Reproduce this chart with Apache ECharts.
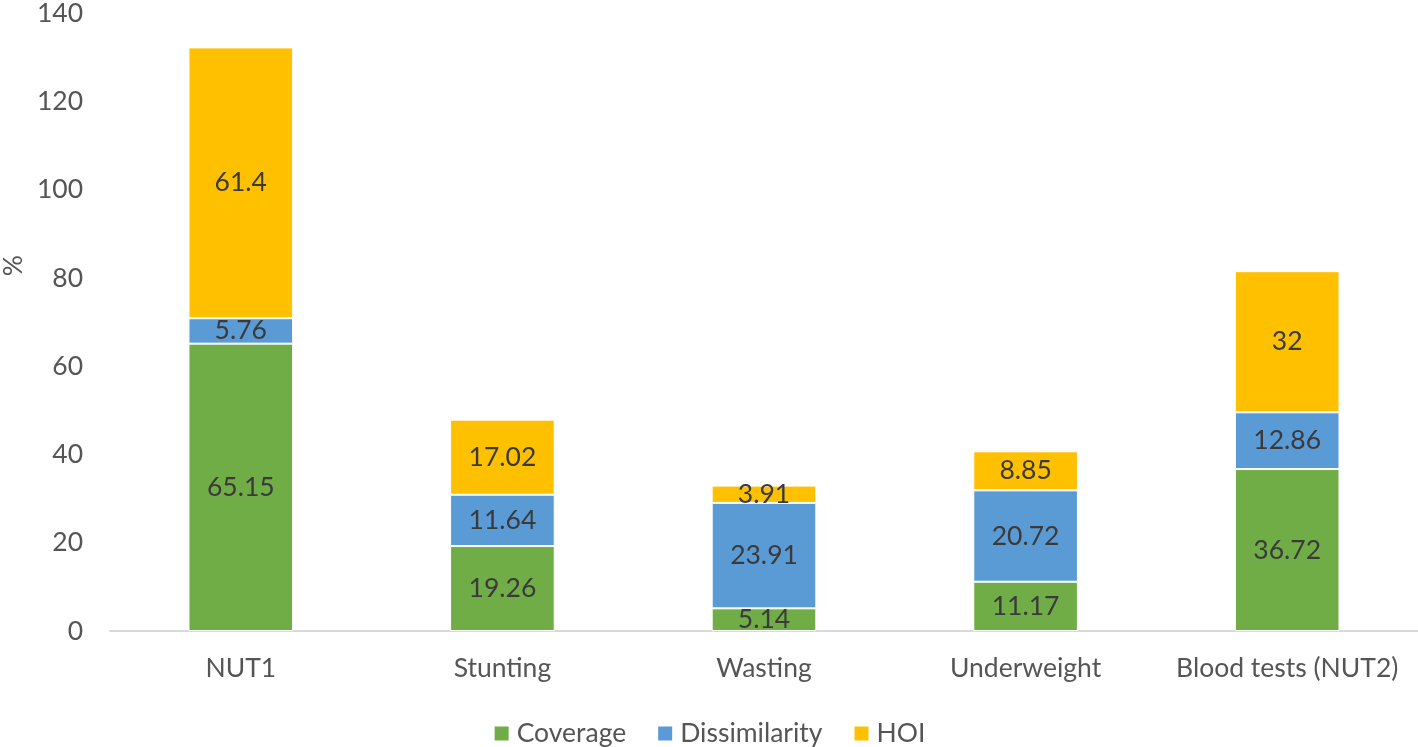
<!DOCTYPE html>
<html><head><meta charset="utf-8">
<script src="https://cdn.jsdelivr.net/npm/echarts@6/dist/echarts.min.js"></script>
<style>html,body{margin:0;padding:0;background:#fff}#c{width:1418px;height:747px}</style>
</head><body><div id="c"></div>
<script>
const categories = ['NUT1', 'Stunting', 'Wasting', 'Underweight', 'Blood tests (NUT2)'];
const coverage = [65.15, 19.26, 5.14, 11.17, 36.72];
const dissimilarity = [5.76, 11.64, 23.91, 20.72, 12.86];
const hoi = [61.4, 17.02, 3.91, 8.85, 32];
const yTicks = {min: 0, max: 140, interval: 20};

const font = 'Lato, Open Sans, sans-serif';
const FS = 26.5;
const lbl = {show: true, position: 'inside', color: '#3a3a3a', fontSize: FS, fontFamily: font};
function s(name, data, color) {
  return {name, type: 'bar', stack: 'a', data, barWidth: '40%',
    itemStyle: {color, borderColor: '#fff', borderWidth: 1}, label: lbl};
}
const chart = echarts.init(document.getElementById('c'));
chart.setOption({
  animation: false,
  grid: {left: 110, right: 0, top: 10, bottom: 116, containLabel: false},
  legend: {bottom: -5, left: 'center', itemWidth: 16, itemHeight: 16, itemGap: 30,
    icon: 'rect', textStyle: {fontSize: FS, color: '#555555', fontFamily: font, padding: [0, 0, 0, 2]},
    data: ['Coverage', 'Dissimilarity', 'HOI']},
  xAxis: {type: 'category', data: categories,
    axisLine: {lineStyle: {color: '#d9d9d9', width: 2}}, axisTick: {show: false},
    axisLabel: {interval: 0, fontSize: FS, color: '#555555', fontFamily: font, margin: 24}},
  yAxis: {type: 'value', min: yTicks.min, max: yTicks.max, interval: yTicks.interval,
    splitLine: {show: false}, axisLine: {show: false}, axisTick: {show: false},
    axisLabel: {fontSize: FS, color: '#555555', fontFamily: font, margin: 27}},
  graphic: [{type: 'text', left: 0, top: 255, rotation: Math.PI / 2,
    style: {text: '%', fontSize: FS, fill: '#555555', fontFamily: font}}],
  series: [s('Coverage', coverage, '#70AD47'), s('Dissimilarity', dissimilarity, '#5B9BD5'), s('HOI', hoi, '#FFC000')]
});
</script></body></html>
